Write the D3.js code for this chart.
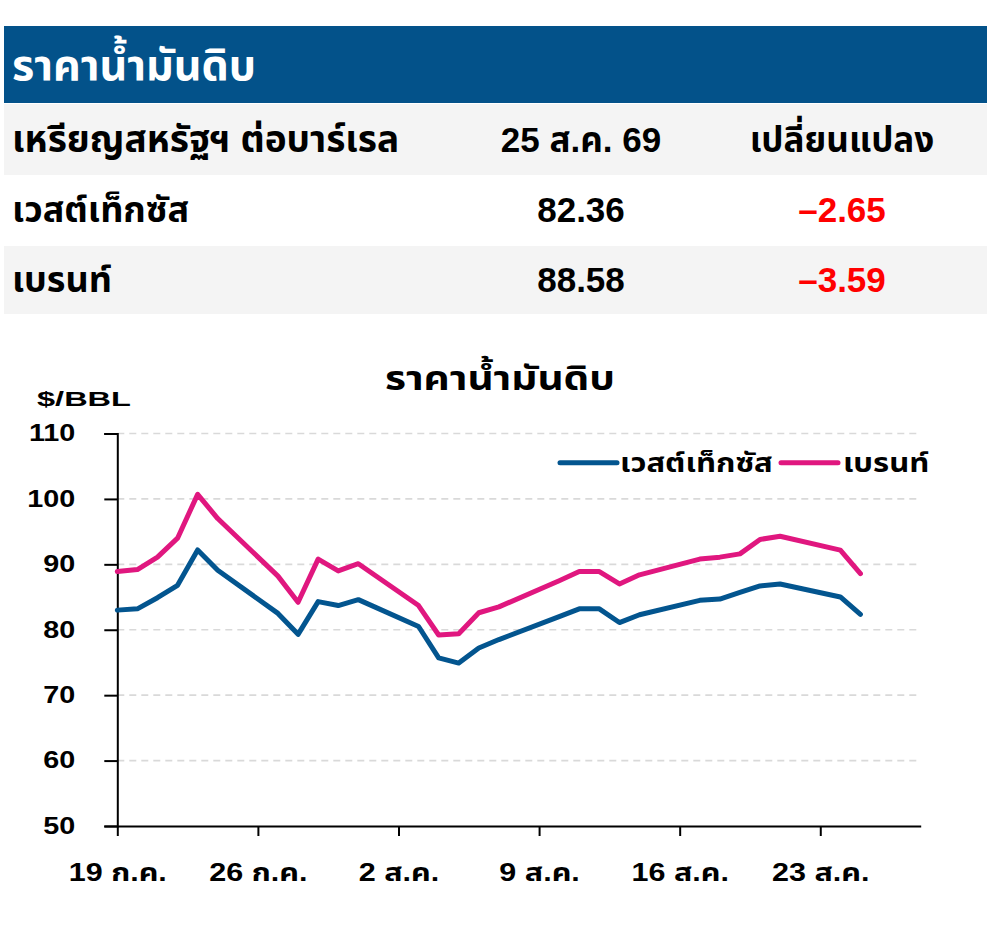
<!DOCTYPE html>
<html><head><meta charset="utf-8">
<script src="https://cdn.jsdelivr.net/npm/d3@7"></script>
<style>
html,body{margin:0;padding:0;background:#fff;}
svg{display:block;}
text{font-family:"Liberation Sans","Noto Sans Thai","Noto Sans",sans-serif;font-weight:700;}
</style></head>
<body>
<svg id="c" width="988" height="930"></svg>
<script>
const dates = ["2026-07-19","2026-07-20","2026-07-21","2026-07-22","2026-07-23","2026-07-24",
  "2026-07-27","2026-07-28","2026-07-29","2026-07-30","2026-07-31",
  "2026-08-03","2026-08-04","2026-08-05","2026-08-06","2026-08-07",
  "2026-08-10","2026-08-11","2026-08-12","2026-08-13","2026-08-14",
  "2026-08-17","2026-08-18","2026-08-19","2026-08-20","2026-08-21",
  "2026-08-24","2026-08-25"];
const wti = [83.0,83.2,84.9,86.8,92.2,89.1, 82.5,79.3,84.3,83.7,84.6, 80.5,75.7,74.9,77.2,78.5, 82.0,83.2,83.2,81.1,82.3, 84.5,84.7,85.7,86.7,87.0, 85.01,82.36];
const brent = [88.9,89.2,91.1,94.0,100.7,97.0, 88.2,84.2,90.8,89.0,90.1, 83.7,79.2,79.4,82.6,83.5, 87.5,88.9,88.9,87.0,88.4, 90.8,91.1,91.6,93.8,94.3, 92.17,88.58];
const seriesNames = ["เวสต์เท็กซัส","เบรนท์"];
const seriesColors = ["#03558f","#e0177f"];
const yTicks = [50,60,70,80,90,100,110];
const xTickDates = ["2026-07-19","2026-07-26","2026-08-02","2026-08-09","2026-08-16","2026-08-23"];
const xTickLabels = ["19 ก.ค.","26 ก.ค.","2 ส.ค.","9 ส.ค.","16 ส.ค.","23 ส.ค."];
const tableHeader = ["เหรียญสหรัฐฯ ต่อบาร์เรล","25 ส.ค. 69","เปลี่ยนแปลง"];
const latest = ["82.36","88.58"];
const changes = ["\u20132.65","\u20133.59"];
const title = "ราคาน้ำมันดิบ";
const unit = "$/BBL";

const svg = d3.select("#c");

function stretch(sel, k){
  sel.each(function(){
    const len = this.getComputedTextLength();
    d3.select(this).attr("textLength", len*k).attr("lengthAdjust","spacingAndGlyphs");
  });
}

// table
svg.append("rect").attr("x",4).attr("y",26).attr("width",983).attr("height",77).attr("fill","#03528a");
svg.append("text").attr("x",12).attr("y",80).attr("fill","#fff").attr("font-size",43).text(title);
const rows = [
  {y:104,h:71,fill:"#f4f4f4",base:152,cells:tableHeader,colors:["#000","#000","#000"]},
  {y:175,h:71,fill:"#fff",base:222,cells:[seriesNames[0],latest[0],changes[0]],colors:["#000","#000","#ff0000"]},
  {y:246,h:68,fill:"#f4f4f4",base:292,cells:[seriesNames[1],latest[1],changes[1]],colors:["#000","#000","#ff0000"]}
];
rows.forEach((r,ri)=>{
  svg.append("rect").attr("x",4).attr("y",r.y).attr("width",983).attr("height",r.h).attr("fill",r.fill);
  svg.append("text").attr("x",12).attr("y",r.base).attr("font-size",ri===0?37:36).attr("fill",r.colors[0]).text(r.cells[0]);
  svg.append("text").attr("x",581).attr("y",r.base).attr("font-size",35).attr("text-anchor","middle").attr("fill",r.colors[1]).text(r.cells[1]);
  svg.append("text").attr("x",842).attr("y",r.base).attr("font-size",35).attr("text-anchor","middle").attr("fill",r.colors[2]).text(r.cells[2]);
});

// chart
const parse = d3.utcParse("%Y-%m-%d");
const x = d3.scaleUtc().domain([parse("2026-07-19"),parse("2026-08-28")]).range([117.3,920.7]);
const y = d3.scaleLinear().domain([50,110]).range([826,433.5]);

svg.append("text").attr("x",500).attr("y",390).attr("text-anchor","middle").attr("font-size",33)
  .attr("textLength",230).attr("lengthAdjust","spacingAndGlyphs").text(title);
svg.append("text").attr("x",37).attr("y",406).attr("font-size",21)
  .attr("textLength",94).attr("lengthAdjust","spacingAndGlyphs").text(unit);

// grid
svg.append("g").selectAll("line").data(yTicks.filter(d=>d>50)).join("line")
  .attr("x1",117.3).attr("x2",920.7).attr("y1",d=>y(d)).attr("y2",d=>y(d))
  .attr("stroke","#d9d9d9").attr("stroke-width",1.6).attr("stroke-dasharray","7,5");

// y axis
const yAxis = svg.append("g").attr("transform","translate(117.3,0)")
  .call(d3.axisLeft(y).tickValues(yTicks).tickSize(13).tickPadding(29));
yAxis.select(".domain").attr("stroke","#000").attr("stroke-width",2);
yAxis.selectAll(".tick line").attr("stroke","#000").attr("stroke-width",2);
yAxis.selectAll(".tick text").attr("font-size",23).attr("fill","#000").attr("font-family",null);
stretch(yAxis.selectAll(".tick text"),1.25);

// x axis
const xAxis = svg.append("g").attr("transform","translate(0,826)")
  .call(d3.axisBottom(x).tickValues(xTickDates.map(parse)).tickFormat((d,i)=>xTickLabels[i]).tickSize(10).tickSizeOuter(0).tickPadding(27));
xAxis.select(".domain").attr("stroke","#000").attr("stroke-width",2);
xAxis.selectAll(".tick line").attr("stroke","#000").attr("stroke-width",2);
xAxis.selectAll(".tick text").attr("font-size",25).attr("fill","#000").attr("font-family",null);
stretch(xAxis.selectAll(".tick text"),1.22);

// lines
const line = d3.line().x((d,i)=>x(parse(dates[i]))).y(d=>y(d)).curve(d3.curveLinear);
[wti,brent].forEach((s,i)=>{
  svg.append("path").attr("d",line(s)).attr("fill","none").attr("stroke",seriesColors[i])
    .attr("stroke-width",5).attr("stroke-linejoin","round").attr("stroke-linecap","round");
});

// legend
const leg = [{x1:560,x2:617,tx:620},{x1:781,x2:838,tx:843}];
leg.forEach((l,i)=>{
  svg.append("line").attr("x1",l.x1).attr("x2",l.x2).attr("y1",462.7).attr("y2",462.7)
    .attr("stroke",seriesColors[i]).attr("stroke-width",5).attr("stroke-linecap","round");
  const t = svg.append("text").attr("x",l.tx).attr("y",472).attr("font-size",27).text(seriesNames[i]);
  stretch(t,1.15);
});
</script>
</body></html>
